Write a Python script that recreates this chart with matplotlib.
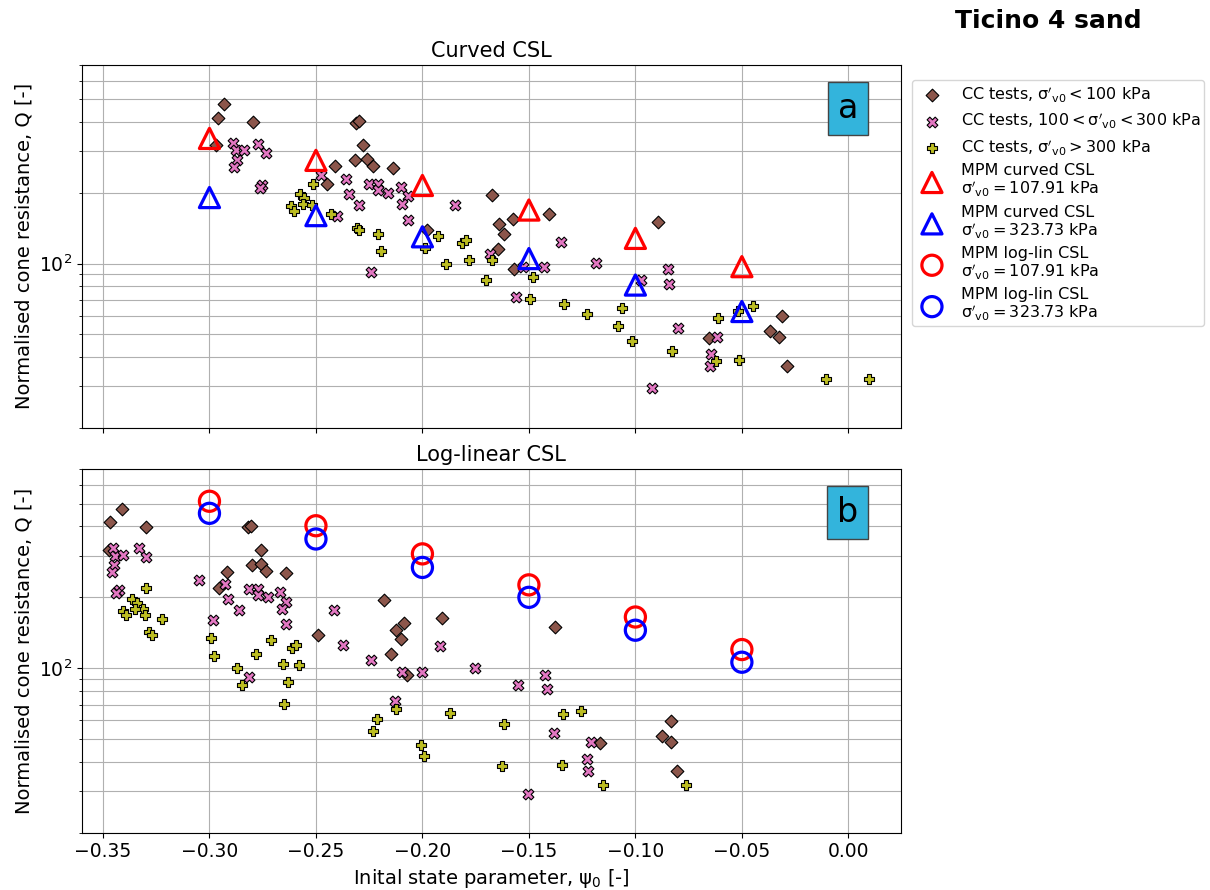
import numpy as np
import matplotlib.pyplot as plt

# MPM runs, one per initial state parameter
psi_mpm = [-0.30, -0.25, -0.20, -0.15, -0.10, -0.05]
q_curved_108 = [341, 275, 215, 169, 128, 97]
q_curved_324 = [191, 160, 130, 105, 81, 62.5]
q_loglin_108 = [512, 403, 306, 226, 165, 120]
q_loglin_324 = [455, 354, 268, 200, 145, 106]

# calibration chamber tests, psi from the curved CSL
psi_low_curved = [-0.2930, -0.2962, -0.2795, -0.2970, -0.2310, -0.2300, -0.2277, -0.2316, -0.2260,
                  -0.2230, -0.2139, -0.2411, -0.2446, -0.1674, -0.1576, -0.1640, -0.1616, -0.1643,
                  -0.1405, -0.1571, -0.0893, -0.0655, -0.0313, -0.0368, -0.0324, -0.0286, -0.1979]
q_low_curved = [476, 418, 402, 319, 398, 403, 319, 277, 280, 260, 255, 259, 219, 196, 155, 147, 133,
                115, 163, 95, 150, 48.4, 59.8, 51.7, 48.9, 36.8, 139]

psi_mid_curved = [-0.2890, -0.2876, -0.2840, -0.2871, -0.2883, -0.2770, -0.2735, -0.2754, -0.2762,
                  -0.2477, -0.2360, -0.2344, -0.2296, -0.2249, -0.2207, -0.2207, -0.2160, -0.2101,
                  -0.2070, -0.2094, -0.2070, -0.2402, -0.2241, -0.1845, -0.1682, -0.1526, -0.1427,
                  -0.1349, -0.1185, -0.1562, -0.0973, -0.0845, -0.0842, -0.0800, -0.0923, -0.0616,
                  -0.0643, -0.0649]
q_mid_curved = [326, 303, 303, 275, 257, 322, 297, 215, 209, 238, 228, 197, 178, 219, 219, 205, 200,
                211, 193, 180, 153, 160, 92, 178, 110, 97, 97, 124, 101, 72.4, 85, 94.6, 82.2, 53.2,
                29.4, 48.7, 41.4, 36.6]

psi_high_curved = [-0.2516, -0.2577, -0.2555, -0.2616, -0.2601, -0.2563, -0.2519, -0.2429, -0.2308,
                   -0.2297, -0.2209, -0.2194, -0.1987, -0.1925, -0.1889, -0.1815, -0.1796, -0.1779,
                   -0.1701, -0.1674, -0.1479, -0.1494, -0.1335, -0.1228, -0.1061, -0.1080, -0.1017,
                   -0.0828, -0.0613, -0.0621, -0.0512, -0.0446, -0.0516, -0.0106, 0.0097]
q_high_curved = [219, 197, 191, 175, 167, 179, 178, 162, 142, 139, 134, 113, 116, 131, 100, 122, 126,
                 104, 85, 104, 87.7, 70.5, 67.1, 60.7, 65.0, 54.1, 46.7, 42.5, 58.7, 38.4, 39.0, 66.0,
                 62.8, 32.2, 32.1]

# calibration chamber tests, psi from the log-linear CSL
psi_low_loglin = [-0.3411, -0.3469, -0.3299, -0.3474, -0.2817, -0.2804, -0.2759, -0.2801, -0.2759,
                  -0.2734, -0.2641, -0.2917, -0.2954, -0.2180, -0.2086, -0.2123, -0.2100, -0.2148,
                  -0.2491, -0.1909, -0.2073, -0.1376, -0.1166, -0.0832, -0.0876, -0.0834, -0.0806]
q_low_loglin = [475, 419, 398, 318, 397, 400, 319, 274, 278, 259, 253, 257, 219, 195, 155, 146, 133,
                115, 138, 163, 94, 149, 48.3, 59.5, 51.5, 48.7, 36.6]

psi_mid_loglin = [-0.3451, -0.3443, -0.3407, -0.3447, -0.3458, -0.3427, -0.3439, -0.3333, -0.3297,
                  -0.3047, -0.2926, -0.2911, -0.2859, -0.2984, -0.2812, -0.2770, -0.2770, -0.2723,
                  -0.2668, -0.2640, -0.2660, -0.2640, -0.2812, -0.2415, -0.2372, -0.2242, -0.2097,
                  -0.2003, -0.2128, -0.1917, -0.1754, -0.1424, -0.1549, -0.1415, -0.1382, -0.1208,
                  -0.1228, -0.1223, -0.1505]
q_mid_loglin = [324, 301, 303, 274, 257, 215, 208, 323, 298, 237, 227, 197, 177, 160, 218, 218, 205,
                200, 210, 192, 178, 154, 92, 177, 125, 108, 96.4, 96.7, 72.8, 124, 100.6, 94, 84.7,
                81.9, 52.9, 48.6, 41.2, 36.6, 29.3]

psi_high_loglin = [-0.3297, -0.3362, -0.3341, -0.3313, -0.3349, -0.3404, -0.3391, -0.3305, -0.3223,
                   -0.3282, -0.3270, -0.2993, -0.2981, -0.2869, -0.2845, -0.2781, -0.2712, -0.2612,
                   -0.2593, -0.2655, -0.2580, -0.2632, -0.2649, -0.2214, -0.2233, -0.2125, -0.2008,
                   -0.1991, -0.1870, -0.1615, -0.1626, -0.1338, -0.1256, -0.1346, -0.1153, -0.0761]
q_high_loglin = [220, 197, 190, 178, 178, 175, 168, 168, 162, 143, 139, 134, 113, 100, 85, 115, 132,
                 122, 126, 104, 103, 87.4, 70.3, 60.7, 53.9, 67.3, 47.0, 42.3, 64.7, 58.1, 38.4, 63.7,
                 65.8, 38.8, 32.0, 31.9]

sig = r"\mathrm{\sigma}'_\mathrm{v0}"
lbl_low = r"CC tests, $%s < 100$ kPa" % sig
lbl_mid = r"CC tests, $100 < %s < 300$ kPa" % sig
lbl_high = r"CC tests, $%s > 300$ kPa" % sig

fig = plt.figure(figsize=(12.1, 8.9), dpi=100)
ax1 = fig.add_axes([0.0675, 0.5194, 0.6771, 0.4075])
ax2 = fig.add_axes([0.0675, 0.0644, 0.6771, 0.4083], sharex=ax1, sharey=ax1)

cc_style = dict(edgecolors='black', linewidths=0.8, zorder=3)


def plot_tests(ax, low, mid, high):
    ax.scatter(*low, s=42, marker='D', color='tab:brown', label=lbl_low, **cc_style)
    ax.scatter(*mid, s=60, marker='X', color='tab:pink', label=lbl_mid, **cc_style)
    ax.scatter(*high, s=60, marker='P', color='tab:olive', label=lbl_high, **cc_style)


plot_tests(ax1, (psi_low_curved, q_low_curved), (psi_mid_curved, q_mid_curved),
           (psi_high_curved, q_high_curved))
plot_tests(ax2, (psi_low_loglin, q_low_loglin), (psi_mid_loglin, q_mid_loglin),
           (psi_high_loglin, q_high_loglin))

mpm_style = dict(s=210, facecolors='none', linewidths=2.3, zorder=4)
h1 = ax1.scatter(psi_mpm, q_curved_108, marker='^', edgecolors='red',
                 label="MPM curved CSL\n" + r"$%s = 107.91$ kPa" % sig, **mpm_style)
h2 = ax1.scatter(psi_mpm, q_curved_324, marker='^', edgecolors='blue',
                 label="MPM curved CSL\n" + r"$%s = 323.73$ kPa" % sig, **mpm_style)
h3 = ax2.scatter(psi_mpm, q_loglin_108, marker='o', edgecolors='red',
                 label="MPM log-lin CSL\n" + r"$%s = 107.91$ kPa" % sig, **mpm_style)
h4 = ax2.scatter(psi_mpm, q_loglin_324, marker='o', edgecolors='blue',
                 label="MPM log-lin CSL\n" + r"$%s = 323.73$ kPa" % sig, **mpm_style)

for ax, title, tag in [(ax1, 'Curved CSL', 'a'), (ax2, 'Log-linear CSL', 'b')]:
    ax.set_yscale('log')
    ax.grid(True, which='both')
    ax.set_axisbelow(True)
    ax.set_title(title, fontsize=15)
    ax.set_ylabel('Normalised cone resistance, Q [-]', fontsize=14)
    ax.tick_params(labelsize=13.5)
    ax.text(0.935, 0.88, tag, transform=ax.transAxes, fontsize=24, ha='center', va='center',
            bbox=dict(boxstyle='square,pad=0.3', facecolor='#33b4dc', edgecolor='#444444'))

ax1.set_xlim(-0.36, 0.0247)
ax1.set_ylim(20, 700)
ax1.tick_params(labelbottom=False)
ax2.set_xticks(np.arange(-0.35, 0.01, 0.05))
ax2.set_xlabel(r'Inital state parameter, $\mathrm{\psi_0}$ [-]', fontsize=14)

handles, labels = ax1.get_legend_handles_labels()
handles += [h3, h4]
labels += [h3.get_label(), h4.get_label()]
leg = fig.legend(handles, labels, loc='upper left', bbox_to_anchor=(0.7537, 0.9101),
                 borderaxespad=0, fontsize=11.5, labelspacing=0.4, borderpad=0.25)
for t in leg.get_texts():
    t.set_linespacing(1.0)

fig.suptitle('Ticino 4 sand', x=0.866, y=0.99, fontsize=18, fontweight='bold')

plt.savefig('out.png')
